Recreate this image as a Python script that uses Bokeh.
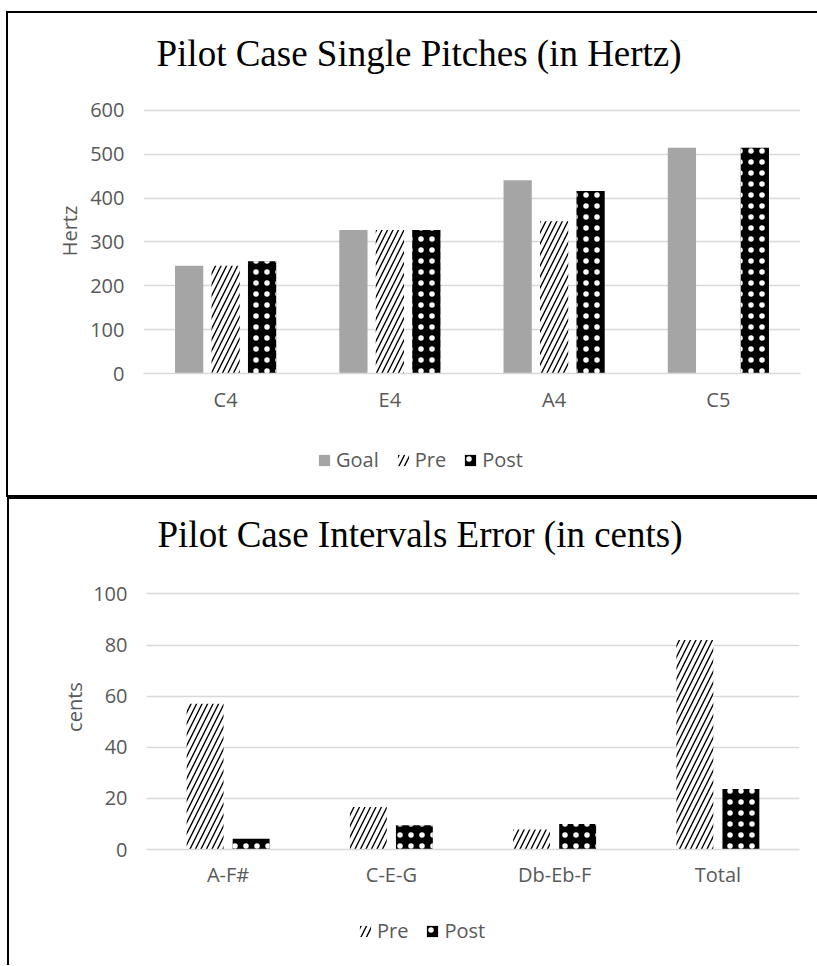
from bokeh.plotting import figure
from bokeh.models import ColumnDataSource, Range1d, Legend, LegendItem, Title, FixedTicker
from bokeh.layouts import column
from bokeh.transform import dodge
from bokeh.embed import file_html
from bokeh.resources import INLINE

# ---------------- data ----------------
notes = ["C4", "E4", "A4", "C5"]
goal_hz = [246, 327, 441, 515]
pre_hz = [246, 327, 347, float("nan")]
post_hz = [256, 327, 416, 515]
hz_ticks = [0, 100, 200, 300, 400, 500, 600]

intervals = ["A-F#", "C-E-G", "Db-Eb-F", "Total"]
pre_cents = [57, 16.6, 7.8, 82]
post_cents = [4.2, 9.5, 10, 23.7]
cents_ticks = [0, 20, 40, 60, 80, 100]

title1 = "Pilot Case Single Pitches (in Hertz)"
title2 = "Pilot Case Intervals Error (in cents)"

# ---------------- style ----------------
SANS = "Open Sans"
SERIF = "Liberation Serif"
GREY_TXT = "#595959"
GRID = "#d9d9d9"
GOAL = "#a5a5a5"

GOAL_STYLE = dict(fill_color=GOAL, line_color=None)
PRE_STYLE = dict(fill_color="white", line_color=None, hatch_pattern="/",
                 hatch_color="black", hatch_scale=11, hatch_weight=1.4)
POST_STYLE = dict(fill_color="black", line_color=None, hatch_pattern=".",
                  hatch_color="white", hatch_scale=11, hatch_weight=0.3)


def style_fig(p, ticks, ylabel, x_standoff, ylab_standoff):
    p.grid.grid_line_color = None
    p.xgrid.visible = False
    p.ygrid.grid_line_color = GRID
    p.ygrid.grid_line_width = 1.5
    p.yaxis.ticker = FixedTicker(ticks=ticks)
    p.yaxis.axis_line_color = None
    p.yaxis.major_tick_line_color = None
    p.yaxis.minor_tick_line_color = None
    p.yaxis.major_tick_out = 0
    p.yaxis.minor_tick_out = 0
    p.yaxis.major_label_standoff = 19
    p.yaxis.major_label_text_font = SANS
    p.yaxis.major_label_text_font_size = "20px"
    p.yaxis.major_label_text_color = GREY_TXT
    p.yaxis.axis_label = ylabel
    p.yaxis.axis_label_text_font = SANS
    p.yaxis.axis_label_text_font_size = "20px"
    p.yaxis.axis_label_text_font_style = "normal"
    p.yaxis.axis_label_text_color = GREY_TXT
    p.yaxis.axis_label_standoff = ylab_standoff
    p.xaxis.axis_line_color = GRID
    p.xaxis.axis_line_width = 1.5
    p.xaxis.major_tick_line_color = None
    p.xaxis.minor_tick_line_color = None
    p.xaxis.major_tick_out = 0
    p.xaxis.major_label_standoff = x_standoff
    p.xaxis.major_label_text_font = SANS
    p.xaxis.major_label_text_font_size = "20px"
    p.xaxis.major_label_text_color = GREY_TXT
    p.outline_line_color = None
    p.background_fill_color = "white"
    p.border_fill_color = "white"


def make_title(text, offset, standoff):
    return Title(text=text, align="left", offset=offset, standoff=standoff,
                 text_font=SERIF, text_font_size="37px",
                 text_font_style="normal", text_color="black")


def legend_fig(width, height, entries, x, y):
    lf = figure(width=width, height=height, x_range=Range1d(0, 1),
                y_range=Range1d(0, 1), x_axis_location=None,
                y_axis_location=None, min_border=0, output_backend="svg",
                toolbar_location=None)
    lf.grid.visible = False
    lf.outline_line_color = None
    lf.background_fill_color = "white"
    lf.border_fill_color = "white"
    items = []
    for label, style in entries:
        # legend key only: a zero-height bar placed outside the visible range
        r = lf.vbar(x=[-10], top=[0], width=0.1, **style)
        items.append(LegendItem(label=label, renderers=[r]))
    lg = Legend(items=items, orientation="horizontal", location=(x, y))
    lg.label_text_font = SANS
    lg.label_text_font_size = "20px"
    lg.label_text_color = GREY_TXT
    lg.glyph_width = 14
    lg.glyph_height = 14
    lg.label_standoff = 5
    lg.spacing = 17
    lg.padding = 0
    lg.margin = 0
    lg.border_line_color = None
    lg.background_fill_alpha = 0
    lf.add_layout(lg, "center")
    return lf


# ---------------- top chart ----------------
src1 = ColumnDataSource(dict(note=notes, goal=goal_hz, pre=pre_hz, post=post_hz))
p1 = figure(x_range=notes, y_range=Range1d(0, 650), width=809, height=412,
            min_border_left=135, min_border_right=17, min_border_top=75,
            min_border_bottom=52, output_backend="svg", toolbar_location=None)
w1 = 0.172
p1.vbar(x=dodge("note", -0.222, range=p1.x_range), top="goal", width=w1,
        source=src1, **GOAL_STYLE)
p1.vbar(x=dodge("note", 0.0, range=p1.x_range), top="pre", width=w1,
        source=src1, **PRE_STYLE)
p1.vbar(x=dodge("note", 0.222, range=p1.x_range), top="post", width=w1,
        source=src1, **POST_STYLE)
style_fig(p1, hz_ticks, "Hertz", 12, 4)
p1.title = make_title(title1, 13, 30)
leg1 = legend_fig(809, 70, [("Goal", GOAL_STYLE), ("Pre", PRE_STYLE),
                            ("Post", POST_STYLE)], 174, 22)

# ---------------- bottom chart ----------------
src2 = ColumnDataSource(dict(iv=intervals, pre=pre_cents, post=post_cents))
p2 = figure(x_range=intervals, y_range=Range1d(0, 111.5), width=808, height=406,
            min_border_left=137, min_border_right=18, min_border_top=65,
            min_border_bottom=56, output_backend="svg", toolbar_location=None)
w2 = 0.226
p2.vbar(x=dodge("iv", -0.141, range=p2.x_range), top="pre", width=w2,
        source=src2, **PRE_STYLE)
p2.vbar(x=dodge("iv", 0.141, range=p2.x_range), top="post", width=w2,
        source=src2, **POST_STYLE)
style_fig(p2, cents_ticks, "cents", 11, 2)
p2.title = make_title(title2, 11, 20)
leg2 = legend_fig(808, 60, [("Pre", PRE_STYLE), ("Post", POST_STYLE)], 212, 21)

# ---------------- framed layout ----------------
inner1 = column(p1, leg1, styles={"background-color": "white"})
inner1.margin = (2, 0, 2, 2)
box1 = column(inner1, styles={"background-color": "black"})
box1.margin = (11, 0, 0, 6)
inner2 = column(p2, leg2, styles={"background-color": "white"})
inner2.margin = (2, 0, 0, 2)
box2 = column(inner2, styles={"background-color": "black"})
box2.margin = (0, 0, 0, 7)
root = column(box1, box2)

open("out.html", "w").write(file_html(root, INLINE))
